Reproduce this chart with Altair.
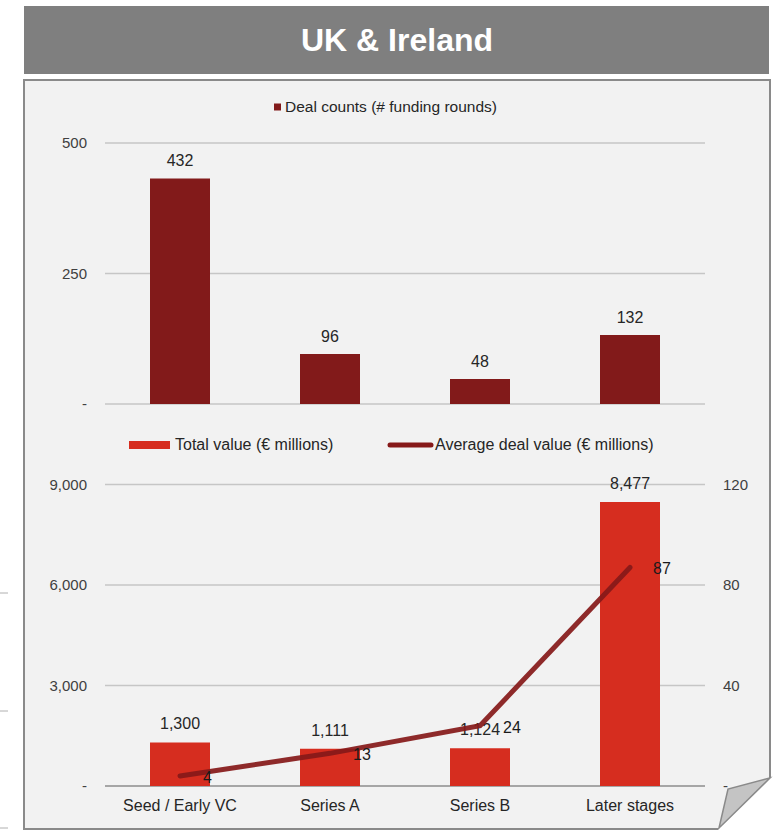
import altair as alt
import pandas as pd

# ---------------- data ----------------
title_text = ["UK & Ireland"]
categories = ["Seed / Early VC", "Series A", "Series B", "Later stages"]
deal_counts = [432, 96, 48, 132]
total_value = [1300, 1111, 1124, 8477]
avg_value = [4, 13, 24, 87]

count_ticks = [0, 250, 500]
count_tick_labels = ["-", "250", "500"]
value_ticks = [0, 3000, 6000, 9000]
value_tick_labels = ["-", "3,000", "6,000", "9,000"]
avg_ticks = [0, 40, 80, 120]
avg_tick_labels = ["-", "40", "80", "120"]

legend_labels = ["Deal counts (# funding rounds)",
                 "Total value (€ millions)",
                 "Average deal value (€ millions)"]

# ---------------- tables ----------------
df = pd.DataFrame({
    "cat": categories,
    "idx": list(range(len(categories))),
    "count": deal_counts,
    "value": total_value,
    "avg": avg_value,
})
one = pd.DataFrame({"t": title_text})
ct = pd.DataFrame({"tick": count_ticks, "lab": count_tick_labels})
vt = pd.DataFrame({"tick": value_ticks, "lab": value_tick_labels})
at = pd.DataFrame({"tick": avg_ticks, "lab": avg_tick_labels})
leg_top = pd.DataFrame({"lab": [legend_labels[0]]})
leg_b1 = pd.DataFrame({"lab": [legend_labels[1]]})
leg_b2 = pd.DataFrame({"lab": [legend_labels[2]]})

# decoration geometry (page curl, edge marks)
white_corner = pd.DataFrame({"px": [718, 772], "top": [829.5, 776], "bot": [832, 832]})
curl = pd.DataFrame({"px": [719, 728, 770], "top": [828, 789, 778], "bot": [828, 819.2, 778]})
edge_marks = pd.DataFrame({"py": [593, 711, 828]})

FONT = "Liberation Sans"
DARK_RED = "#821a1a"
RED = "#d62d1f"
LINE_RED = "#861919"
GRID = "#c6c6c6"
TXT = "#262626"
TICK_TXT = "#404040"

xs = alt.Scale(domain=categories, range=[105, 705], paddingInner=0.6, paddingOuter=0.3)
count_scale = alt.Scale(domain=[0, 500], range=[404, 143], nice=False, zero=True)
value_scale = alt.Scale(domain=[0, 9000], range=[786, 484.5], nice=False, zero=True)
avg_scale = alt.Scale(domain=[0, 120], range=[786, 484.5], nice=False, zero=True)

X = alt.X("cat:N", scale=xs, axis=None, sort=categories)

layers = []

# title bar
layers.append(alt.Chart(one).mark_rect(color="#7f7f7f").encode(
    x=alt.value(24), x2=alt.value(769), y=alt.value(6), y2=alt.value(74)))
layers.append(alt.Chart(one).mark_text(font=FONT, fontSize=32, fontWeight="bold",
                                       color="white", baseline="middle", align="center").encode(
    x=alt.value(397), y=alt.value(41), text="t:N"))

# panel
layers.append(alt.Chart(one).mark_rect(fill="#f2f2f2", stroke="#8a8a8a", strokeWidth=2).encode(
    x=alt.value(24), x2=alt.value(770), y=alt.value(80), y2=alt.value(829)))

# edge marks at far left
layers.append(alt.Chart(edge_marks).mark_rule(color="#b0b0b0", strokeWidth=1).encode(
    x=alt.value(0), x2=alt.value(8), y=alt.Y("py:Q", scale=None)))

# page curl
layers.append(alt.Chart(white_corner).mark_area(color="white", orient="vertical").encode(
    x=alt.X("px:Q", scale=None), y=alt.Y("top:Q", scale=None), y2="bot:Q"))
layers.append(alt.Chart(curl).mark_area(fill="#c4c4c4", stroke="#8a8a8a", strokeWidth=1.5,
                                        orient="vertical").encode(
    x=alt.X("px:Q", scale=None), y=alt.Y("top:Q", scale=None), y2="bot:Q"))

# gridlines
layers.append(alt.Chart(ct).mark_rule(color=GRID, strokeWidth=1.5).encode(
    x=alt.value(105), x2=alt.value(705), y=alt.Y("tick:Q", scale=count_scale, axis=None)))
layers.append(alt.Chart(vt).mark_rule(strokeWidth=1.5).encode(
    x=alt.value(105), x2=alt.value(705), y=alt.Y("tick:Q", scale=value_scale, axis=None),
    color=alt.condition(alt.datum.tick == 0, alt.value("#8c8c8c"), alt.value(GRID))))

# top bars
layers.append(alt.Chart(df).mark_bar(color=DARK_RED).encode(
    x=X, y=alt.Y("count:Q", scale=count_scale, axis=None)))
layers.append(alt.Chart(df).mark_text(font=FONT, fontSize=16, color=TXT, baseline="middle", dy=-17).encode(
    x=X, y=alt.Y("count:Q", scale=count_scale, axis=None), text=alt.Text("count:Q", format=",")))

# bottom bars
layers.append(alt.Chart(df).mark_bar(color=RED).encode(
    x=X, y=alt.Y("value:Q", scale=value_scale, axis=None)))
layers.append(alt.Chart(df).mark_text(font=FONT, fontSize=16, color=TXT, baseline="middle", dy=-18).encode(
    x=X, y=alt.Y("value:Q", scale=value_scale, axis=None), text=alt.Text("value:Q", format=",")))

# average line
layers.append(alt.Chart(df).mark_line(color=LINE_RED, strokeWidth=5, strokeCap="round",
                                      opacity=0.92).encode(
    x=X, y=alt.Y("avg:Q", scale=avg_scale, axis=None), order="idx:Q"))
layers.append(alt.Chart(df).mark_text(font=FONT, fontSize=16, color="#1a1a1a", baseline="middle",
                                      align="left", dx=23, dy=2).encode(
    x=X, y=alt.Y("avg:Q", scale=avg_scale, axis=None), text=alt.Text("avg:Q", format=",")))

# tick labels
layers.append(alt.Chart(ct).mark_text(font=FONT, fontSize=15, color=TICK_TXT, align="right",
                                      baseline="middle").encode(
    x=alt.value(87), y=alt.Y("tick:Q", scale=count_scale, axis=None), text="lab:N"))
layers.append(alt.Chart(vt).mark_text(font=FONT, fontSize=15, color=TICK_TXT, align="right",
                                      baseline="middle").encode(
    x=alt.value(87), y=alt.Y("tick:Q", scale=value_scale, axis=None), text="lab:N"))
layers.append(alt.Chart(at).mark_text(font=FONT, fontSize=15, color=TICK_TXT, align="left",
                                      baseline="middle").encode(
    x=alt.value(723), y=alt.Y("tick:Q", scale=avg_scale, axis=None), text="lab:N"))

# category labels
layers.append(alt.Chart(df).mark_text(font=FONT, fontSize=16, color=TXT, baseline="middle").encode(
    x=X, y=alt.value(806), text="cat:N"))

# legends
layers.append(alt.Chart(leg_top).mark_rect(color=DARK_RED).encode(
    x=alt.value(274), x2=alt.value(281), y=alt.value(103.5), y2=alt.value(110.5)))
layers.append(alt.Chart(leg_top).mark_text(font=FONT, fontSize=15.5, color=TXT, align="left",
                                           baseline="middle").encode(
    x=alt.value(285), y=alt.value(107), text="lab:N"))
layers.append(alt.Chart(leg_b1).mark_rect(color=RED).encode(
    x=alt.value(129), x2=alt.value(170), y=alt.value(441), y2=alt.value(449)))
layers.append(alt.Chart(leg_b1).mark_text(font=FONT, fontSize=16, color=TXT, align="left",
                                          baseline="middle").encode(
    x=alt.value(175), y=alt.value(445), text="lab:N"))
layers.append(alt.Chart(leg_b2).mark_rule(color=LINE_RED, strokeWidth=5, strokeCap="round").encode(
    x=alt.value(390), x2=alt.value(431), y=alt.value(445)))
layers.append(alt.Chart(leg_b2).mark_text(font=FONT, fontSize=16, color=TXT, align="left",
                                          baseline="middle").encode(
    x=alt.value(435), y=alt.value(445), text="lab:N"))

chart = alt.layer(*layers).resolve_scale(y="independent").properties(
    width=779, height=831,
    autosize=alt.AutoSizeParams(type="none"),
    padding=0,
    background="white",
).configure_view(stroke=None)

chart.save("out.html", embed_options={"renderer": "svg", "actions": False})
